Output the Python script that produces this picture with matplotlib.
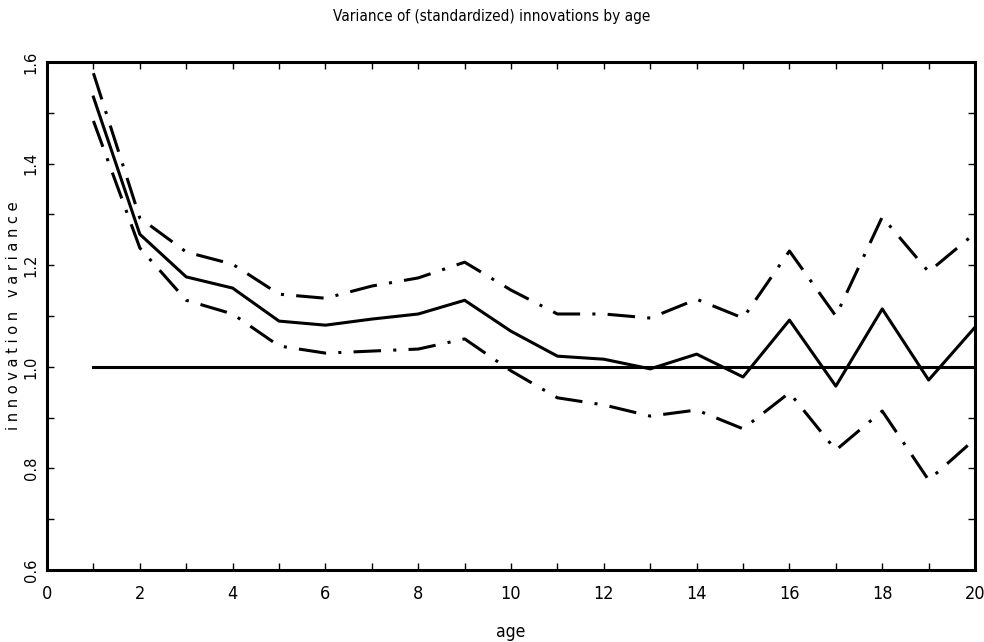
import numpy as np
import matplotlib.pyplot as plt
from matplotlib.ticker import MultipleLocator

# datos
age = np.arange(1, 21)
var_mid = [1.531, 1.261, 1.177, 1.155, 1.090, 1.082, 1.094, 1.104, 1.131, 1.070,
           1.021, 1.015, 0.996, 1.025, 0.980, 1.092, 0.962, 1.114, 0.974, 1.078]
var_up = [1.578, 1.293, 1.226, 1.202, 1.143, 1.135, 1.159, 1.175, 1.206, 1.151,
          1.104, 1.104, 1.096, 1.133, 1.096, 1.228, 1.100, 1.295, 1.187, 1.263]
var_lo = [1.484, 1.234, 1.131, 1.104, 1.041, 1.027, 1.031, 1.035, 1.055, 0.992,
          0.939, 0.925, 0.903, 0.915, 0.878, 0.949, 0.836, 0.913, 0.777, 0.858]
ref_line = [1.0, 1.0]
ref_x = [1, 20]

fig = plt.figure(figsize=(9.84, 6.42), dpi=100)
ax = fig.add_axes([0.0478, 0.1121, 0.9431, 0.7913])

dashdot = (0, (9, 4, 1, 4))
ax.plot(age, var_up, color='black', lw=2.2, linestyle=dashdot)
ax.plot(age, var_lo, color='black', lw=2.2, linestyle=dashdot)
ax.plot(age, var_mid, color='black', lw=2.2)
ax.plot(ref_x, ref_line, color='black', lw=2.2)

ax.set_xlim(0, 20)
ax.set_ylim(0.6, 1.6)
ax.xaxis.set_minor_locator(MultipleLocator(1))
ax.yaxis.set_minor_locator(MultipleLocator(0.1))
ax.tick_params(which='both', direction='in', top=True, right=True, width=1,
               color='black', length=5)
ax.tick_params(axis='x', pad=11)
ax.tick_params(axis='y', pad=6)

for s in ax.spines.values():
    s.set_linewidth(2.2)

ax.set_xticks(range(0, 21, 2))
ax.set_xticklabels([str(v) for v in range(0, 21, 2)], family='DejaVu Sans',
                   stretch='condensed', fontsize=13)
ax.set_yticks([0.6, 0.8, 1.0, 1.2, 1.4, 1.6])
ax.set_yticklabels(['0.6', '0.8', '1.0', '1.2', '1.4', '1.6'],
                   rotation=90, va='center', fontsize=10.5)

ax.set_xlabel('age', family='DejaVu Sans', stretch='condensed', fontsize=12.5,
              labelpad=14)
ax.set_ylabel('i n n o v a t i o n   v a r i a n c e', fontsize=10.5, labelpad=2)
fig.text(0.5, 0.975, 'Variance of (standardized) innovations by age',
         family='DejaVu Sans', stretch='condensed', fontsize=11,
         ha='center', va='center')

plt.savefig('out.png', dpi=100)
